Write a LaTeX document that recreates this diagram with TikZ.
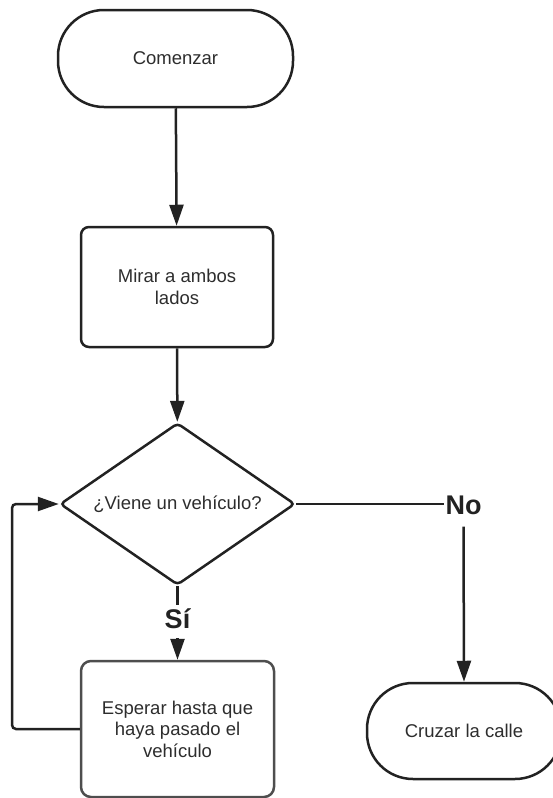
\documentclass[tikz,border=0pt]{standalone}
\usepackage{fontspec}
\setmainfont{Liberation Sans}
\definecolor{ink}{RGB}{34,34,34}
\definecolor{textgray}{RGB}{45,45,45}
\usepackage{tikz}
\usetikzlibrary{positioning, arrows.meta, shapes.geometric}

\begin{document}
\begin{tikzpicture}[
  x=1pt, y=-1pt,
  terminal/.style={draw=ink, line width=2.5pt, rounded corners=46pt, minimum width=235pt, minimum height=97pt, align=center, text=textgray, font=\fontsize{18.5}{21.5}\selectfont},
  process/.style={draw=ink, line width=2.5pt, rounded corners=8pt, minimum width=192pt, minimum height=120pt, align=center, text=textgray, font=\fontsize{18.5}{21.5}\selectfont},
  decision/.style={draw=ink, line width=2.5pt, diamond, rounded corners=4pt, inner sep=0pt, minimum width=235pt, minimum height=162pt},
  answer/.style={font=\fontsize{27}{30}\selectfont\bfseries, text=ink, inner xsep=1pt, text height=19pt},
  link/.style={draw=ink, line width=2.5pt},
  arrow/.style={link, -{Triangle[length=21pt, width=14pt]}}
]
  \useasboundingbox (0,0) rectangle (553,798);

  % Start
  \node[terminal] (start) at (175.5, 58.5) {Comenzar};

  % Look both ways
  \node[process] (look) at (177, 287) {Mirar a ambos\\lados};

  % Decision (text set on the centre of an empty diamond)
  \node[decision, label={[text=textgray, font=\fontsize{18.5}{21.5}\selectfont]center:¿Viene un vehículo?}] (dec) at (177.5, 504) {};

  % Wait box (lighter border)
  \node[process, draw=ink!80, minimum width=193pt, minimum height=136pt, rounded corners=10pt] (wait) at (177.5, 729) {Esperar hasta que\\haya pasado el\\vehículo};

  % Cross the street (runs past the right edge)
  \node[terminal, minimum width=194pt, minimum height=96pt] (cross) at (464, 731) {Cruzar la calle};

  % Answer labels
  \node[answer, anchor=base, inner ysep=4pt, text depth=6pt] (si) at (177.5, 628) {Sí};
  \node[answer, anchor=base, inner ysep=1pt, text depth=11pt] (no) at (463.5, 514.5) {No};
  \coordinate (loop) at (12, 729);

  % Connectors
  \draw[arrow] (start) -- (look);
  \draw[arrow] (look) -- (dec);
  \draw[link] (dec.south) -- (si.north);
  \draw[arrow] (si.south) -- (wait.north);
  \draw[link] (dec.east) -- (dec.east -| no.west);
  \draw[arrow] (no.south) -- (cross.north);
  \draw[arrow, rounded corners=4pt] (wait.west) -- (loop) |- (dec.west);
\end{tikzpicture}
\end{document}
